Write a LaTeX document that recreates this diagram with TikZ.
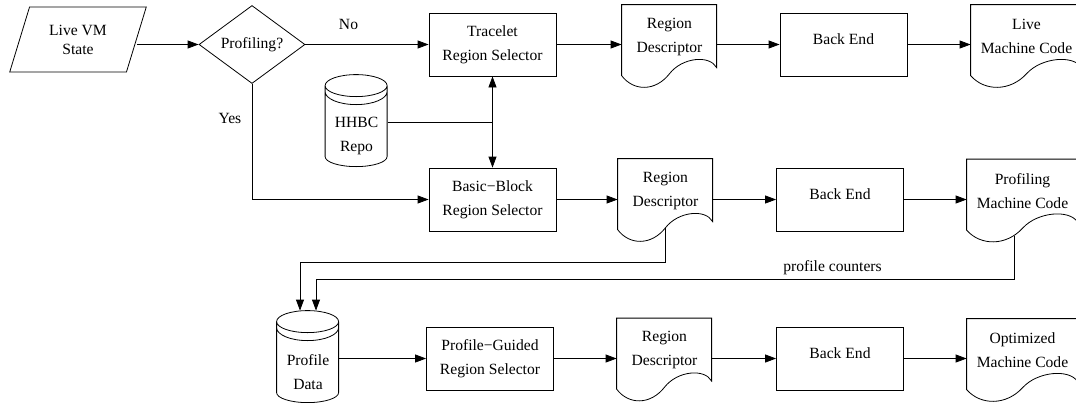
\documentclass[tikz,border=0pt]{standalone}
\usepackage{fontspec}
\setmainfont{Liberation Serif}
\usepackage{tikz}
\usetikzlibrary{shapes.geometric,arrows.meta,positioning,calc}

% outline of a document node (name, xscale)
\newcommand{\docoutline}[2]{%
  \draw[shift={(#1.north west)}, xscale=#2] (0,0) -- (95,0) -- (95,63)
    .. controls (88,50) and (60.6,52.8) .. (48,69)
    .. controls (34,87) and (12,87) .. (0,71) -- cycle;}
% outline of a data store node
\newcommand{\canoutline}[1]{%
  \draw[shift={(#1.north west)}] (31,-19) ellipse (31 and 11)
    (0,-13) arc (180:0:31 and 13)
    (0,-19) -- (0,52) arc (180:0:31 and 10) -- (62,-19);
  \coordinate (#1 top) at ([yshift=30pt]#1.north);}

\begin{document}
\begin{tikzpicture}[x=1pt, y=-1pt, line width=0.8pt,
    >={Triangle[length=11pt,width=8pt]},
    every node/.style={font=\fontsize{15.6}{24}\selectfont, align=center},
    box/.style={draw, minimum width=127pt, minimum height=63pt},
    backend/.style={box, text depth=10pt},
    decision/.style={draw, diamond, aspect=1.36, inner sep=0pt,
      minimum width=106pt, minimum height=78pt},
    io/.style={draw, trapezium, trapezium left angle=70, trapezium right angle=110,
      trapezium stretches=true, minimum width=137pt, minimum height=65pt,
      font=\fontsize{15.6}{19}\selectfont},
    doc/.style={minimum width=95pt, minimum height=63pt},
    widedoc/.style={minimum width=111pt, minimum height=63pt},
    can/.style={minimum width=62pt, minimum height=62pt}]
    \useasboundingbox (0,0) rectangle (1076,402);
    \clip (0,0) rectangle (1076,402);

    % first row
    \node[io] (live) at (78,39.5) {Live VM\\State};
    \node[decision] (prof) at (252,44.5) {Profiling?};
    \node[box] (tracelet) at (492.5,44.5) {Tracelet\\Region Selector};
    \node[doc] (rd1) at (669.5,36.5) {Region\\Descriptor};
    \node[backend] (be1) at (843.5,44.5) {Back End};
    \node[widedoc] (lmc) at (1026.5,36.5) {Live\\Machine Code};
    \node[can] (hhbc) at (356.5,136) {HHBC\\Repo};
    % second row
    \node[box] (bb) at (492.5,199.5) {Basic−Block\\Region Selector};
    \node[doc] (rd2) at (665.5,190.5) {Region\\Descriptor};
    \node[backend] (be2) at (840,199.5) {Back End};
    \node[widedoc] (pmc) at (1022.5,191) {Profiling\\Machine Code};
    % third row
    \node[can] (pd) at (308,372) {Profile\\Data};
    \node[box] (pg) at (490,358.5) {Profile−Guided\\Region Selector};
    \node[doc] (rd3) at (664.5,350) {Region\\Descriptor};
    \node[backend] (be3) at (840,358.5) {Back End};
    \node[widedoc] (omc) at (1022.5,350.5) {Optimized\\Machine Code};

    \docoutline{rd1}{1} \docoutline{rd2}{1} \docoutline{rd3}{1}
    \docoutline{lmc}{1.168} \docoutline{pmc}{1.168} \docoutline{omc}{1.168}
    \canoutline{hhbc} \canoutline{pd}

    \draw[->] (live.east |- prof.west) -- (prof.west);
    \draw[->] (prof.east) -- node[pos=0.35, above=11pt] {No} (tracelet.west);
    \draw[->] (prof.south) |- node[pos=0.15, left=7pt] {Yes} (bb.west);
    \draw[->] (tracelet.east) -- (tracelet.east -| rd1.west);
    \draw[->] (be1.west -| rd1.east) -- (be1.west);
    \draw[->] (be1.east) -- (be1.east -| lmc.west);

    \coordinate (repo) at ($(tracelet.south)!0.5!(bb.north)$);
    \draw (hhbc.east |- repo) -- (repo);
    \draw[->] (repo) -- (tracelet.south);
    \draw[->] (repo) -- (bb.north);

    \draw[->] (bb.east) -- (bb.east -| rd2.west);
    \draw[->] (be2.west -| rd2.east) -- (be2.west);
    \draw[->] (be2.east) -- (be2.east -| pmc.west);

    \draw[->] ([yshift=-6pt]rd2.south) -- ++(0,34) -| ([xshift=-8pt]pd top);
    \draw[->] ([xshift=-8.5pt,yshift=-13pt]pmc.south) -- ++(0,43)
      -| node[pos=0.13, above] {profile counters} ([xshift=8pt]pd top);

    \draw[->] (pd.east |- pg.west) -- (pg.west);
    \draw[->] (pg.east) -- (pg.east -| rd3.west);
    \draw[->] (be3.west -| rd3.east) -- (be3.west);
    \draw[->] (be3.east) -- (be3.east -| omc.west);
\end{tikzpicture}
\end{document}
